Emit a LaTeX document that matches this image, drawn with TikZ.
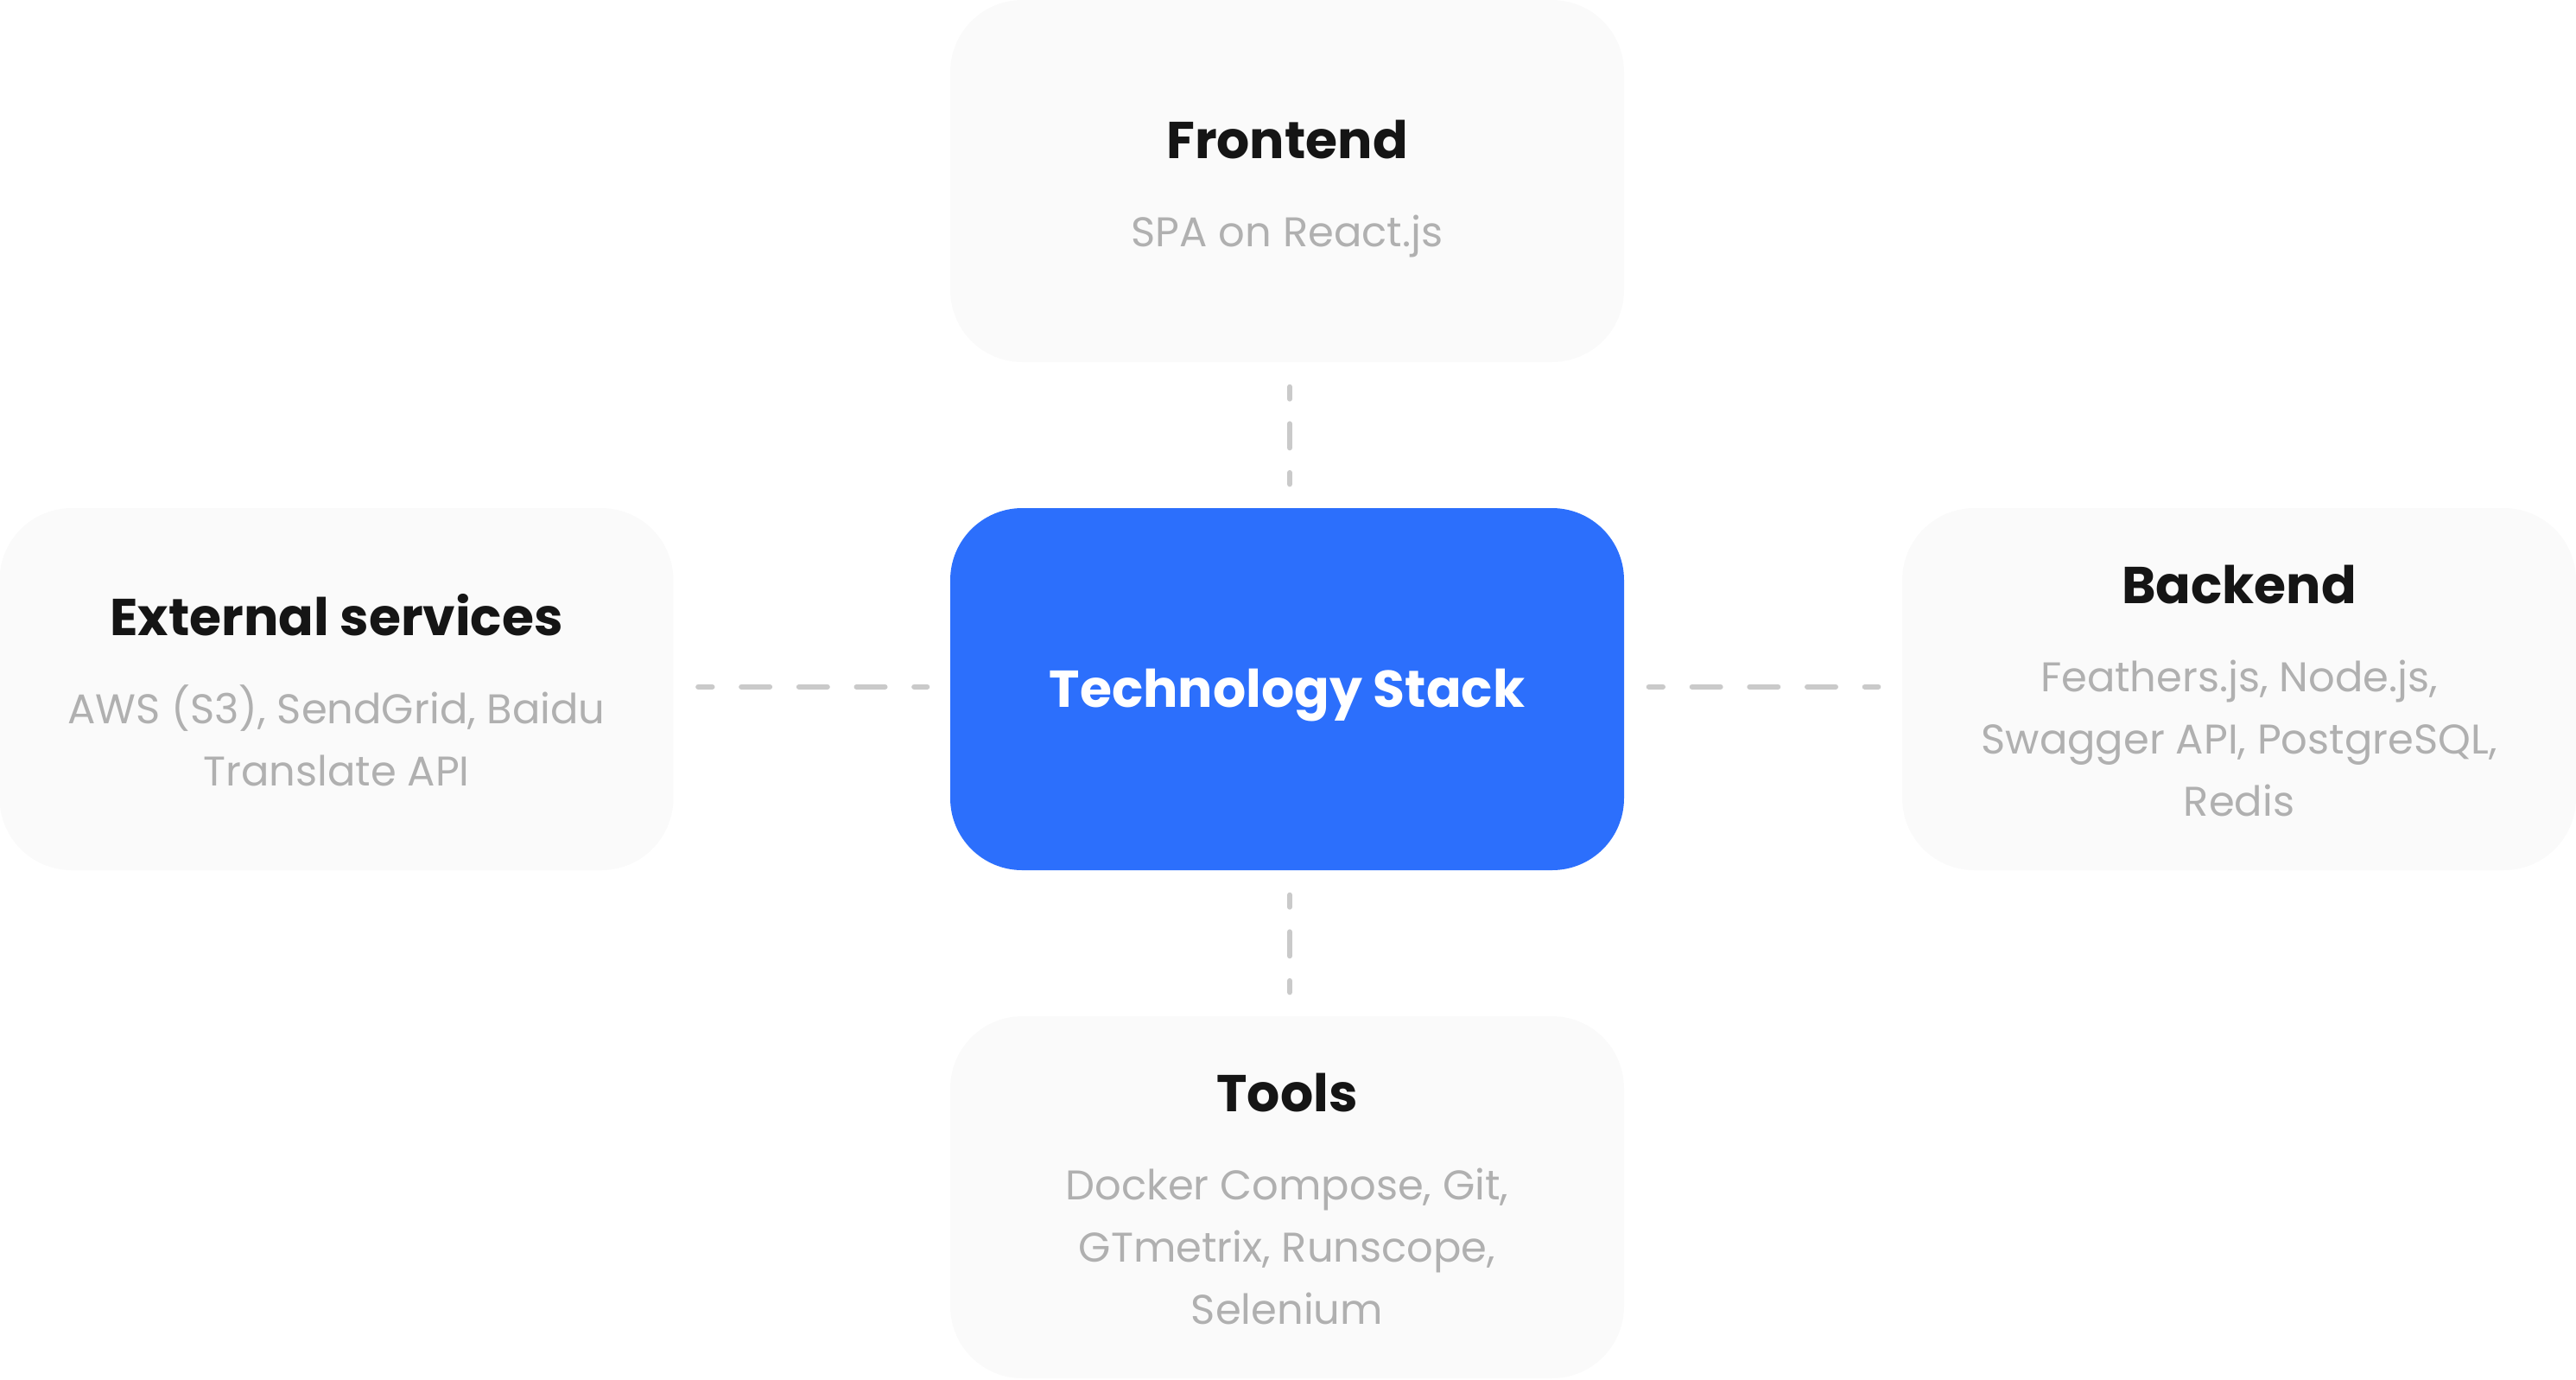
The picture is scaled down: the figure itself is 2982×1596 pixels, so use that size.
\documentclass[tikz,border=0pt]{standalone}
\usepackage{fontspec}
\setmainfont{Poppins}[BoldFont={Poppins Bold}]
\newfontfamily\bodyfont{Poppins}
\definecolor{boxbg}{HTML}{FAFAFA}
\definecolor{coreblue}{HTML}{2C6FFC}
\definecolor{headc}{HTML}{151515}
\definecolor{bodyc}{HTML}{B0B0B0}
\definecolor{linkc}{HTML}{CACACA}
\tikzset{
  card/.style={rectangle, rounded corners=25pt, fill=boxbg, draw=none,
    minimum width=234pt, minimum height=125.7pt, inner sep=0pt},
  core/.style={card, fill=coreblue},
  head/.style={font=\fontsize{18}{18}\selectfont\bfseries, text=headc, anchor=base, inner sep=0pt},
  corehead/.style={head, text=white},
  body/.style={font=\bodyfont\fontsize{14.4}{21.6}\selectfont, text=bodyc, anchor=base, inner sep=0pt},
  link/.style={draw=linkc, line width=1.8pt, line cap=round},
  vlink/.style={link, dash pattern=on 8.4pt off 8.6pt, dash phase=4.2pt},
  hlink/.style={link, dash pattern=on 9.9pt off 10.1pt, dash phase=5pt}
}
\newcommand{\bodylines}[1]{\begin{tabular}[t]{@{}c@{}}#1\end{tabular}}
\begin{document}
\begin{tikzpicture}[x=0.3pt,y=-0.3pt]
\useasboundingbox (0,0) rectangle (2982,1596);
% boxes
\node[card] (fe) at (1490,209.5) {};
\node[core] (core) at (1490,797.5) {};
\node[card] (ext) at (389.5,797.5) {};
\node[card] (be) at (2592,797.5) {};
\node[card] (tools) at (1490,1385.5) {};
% texts
\node[corehead] (coret) at (1490,818) {Technology Stack};
\node[head] (feh) at (1490,183) {Frontend};
\node[body] (feb) at (1490,285) {\bodylines{SPA on React.js}};
\node[head] (exth) at (389.5,735) {External services};
\node[body] (extb) at (389.5,837) {\bodylines{AWS (S3), SendGrid, Baidu\\Translate API}};
\node[head] (beh) at (2592,698) {Backend};
\node[body] (beb) at (2592,800) {\bodylines{Feathers.js, Node.js,\\Swagger API, PostgreSQL,\\Redis}};
\node[head] (toolsh) at (1490,1286) {Tools};
\node[body] (toolsb) at (1490,1388) {\bodylines{Docker Compose, Git,\\GTmetrix, Runscope,\\Selenium}};
% connectors
\draw[vlink, shorten <=8.4pt, shorten >=8.1pt] ([xshift=0.9pt]fe.south) -- ([xshift=0.9pt]core.north);
\draw[vlink, shorten <=8.4pt, shorten >=8.1pt] ([xshift=0.9pt]core.south) -- ([xshift=0.9pt]tools.north);
\draw[hlink, shorten <=8.4pt, shorten >=7.8pt] ([yshift=0.8pt]ext.east) -- ([yshift=0.8pt]core.west);
\draw[hlink, shorten <=8.4pt, shorten >=8.1pt] ([yshift=0.8pt]core.east) -- ([yshift=0.8pt]be.west);
\end{tikzpicture}
\end{document}
